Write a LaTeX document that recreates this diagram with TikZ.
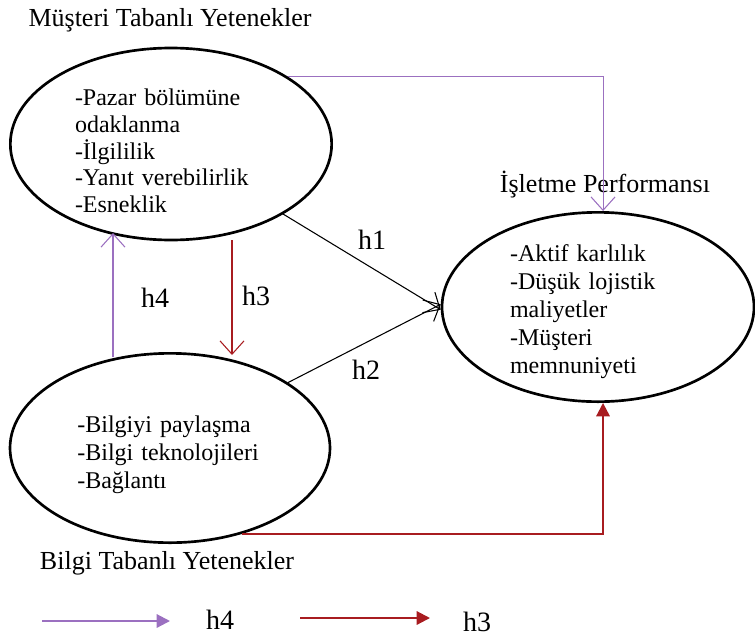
\documentclass[tikz,border=0pt]{standalone}
\usepackage{fontspec}
\setmainfont{Liberation Serif}
\usetikzlibrary{positioning,arrows.meta,shapes.geometric}
\definecolor{hfour}{RGB}{155,112,192}
\definecolor{hthree}{RGB}{168,28,32}
\newcommand{\topgap}[1]{\rule{0pt}{#1}}

\begin{document}
\begin{tikzpicture}[x=0.75pt,y=-0.75pt]
		\tikzset{blob/.style = {shape=ellipse,draw,line width=2pt,inner xsep=0pt,inner ysep=-9pt,align=left,font=\fontsize{18}{21}\selectfont}}
		\tikzset{headline/.style = {font=\fontsize{19.5}{21}\selectfont}}
		\tikzset{hlab/.style = {font=\fontsize{21}{22}\selectfont}}
		\tikzset{func/.style = {->,> = {Straight Barb[length=10pt,width=18pt]},line width=0.8pt}}
		\tikzset{key/.style = {-{Triangle[length=10pt,width=10pt]},line width=1.6pt}}

		\useasboundingbox (0,0) rectangle (755,639);

		% ellipses
		\node[blob,minimum width=241pt,minimum height=144pt,text width=144pt,font=\fontsize{18}{20}\selectfont] (mtc) at (171,144) {\topgap{23pt}-Pazar bölümüne\\odaklanma\\-İlgililik\\-Yanıt verebilirlik\\-Esneklik};
		\node[blob,minimum width=234pt,minimum height=142pt,text width=132pt] (perf) at (598,307) {\topgap{20pt}-Aktif karlılık\\-Düşük lojistik\\maliyetler\\-Müşteri\\memnuniyeti};
		\node[blob,minimum width=240pt,minimum height=142pt,text width=139pt] (bkc) at (170,448) {\topgap{23pt}-Bilgiyi paylaşma\\-Bilgi teknolojileri\\-Bağlantı};

		% titles
		\node[headline] (mtt) at (170,20) {Müşteri Tabanlı Yetenekler};
		\node[headline] (ipt) at (605,185) {İşletme Performansı};
		\node[headline] (btt) at (167,563) {Bilgi Tabanlı Yetenekler};

		% h1, h2
		\draw[func] (mtc.-32) -- (perf.181);
		\draw[func] (bkc.29) -- (perf.179);
		\node[hlab] (h1) at (372,240) {h1};
		\node[hlab] (h2) at (366,370) {h2};

		% h3
		\coordinate (h3s) at (232,240);
		\coordinate (h3e) at (232,355);
		\draw[func,hthree] (h3s) -- (h3e);
		\node[hlab] (h3) at (256,296) {h3};

		% h4
		\coordinate (h4s) at (113,357);
		\coordinate (h4e) at (113,233);
		\draw[func,hfour] (h4s) -- (h4e);
		\node[hlab] (h4) at (155,298) {h4};

		% long paths
		\draw[func,hfour] (mtc.30) -| (perf.87);
		\draw[key,hthree] (bkc.-50) -| (perf.-87);

		% legend
		\coordinate (lg4s) at (42,621);
		\coordinate (lg4e) at (170,621);
		\draw[key,hfour] (lg4s) -- (lg4e);
		\node[hlab] (lg4) at (220,620) {h4};
		\coordinate (lg3s) at (300,618);
		\coordinate (lg3e) at (430,618);
		\draw[key,hthree] (lg3s) -- (lg3e);
		\node[hlab] (lg3) at (477,622) {h3};
	\end{tikzpicture}
\end{document}
